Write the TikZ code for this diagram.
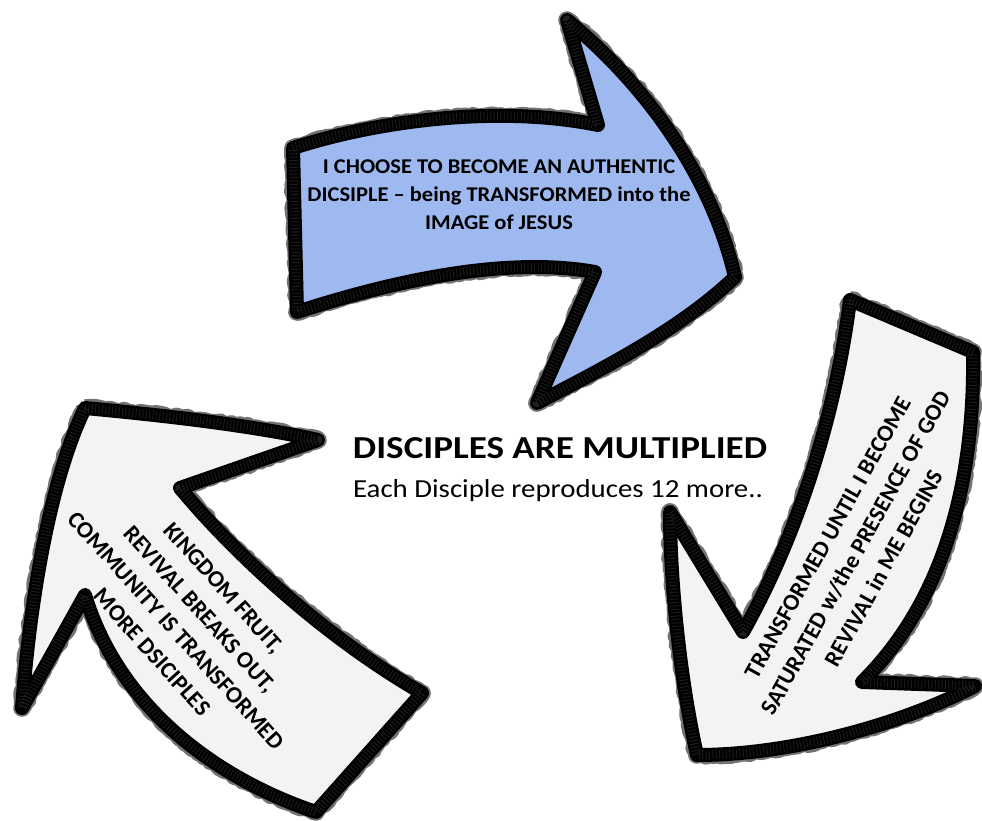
\documentclass[tikz,border=0pt]{standalone}
\usepackage{fontspec}
\setmainfont{Carlito}
\usetikzlibrary{decorations.pathmorphing}
\definecolor{arrowblue}{RGB}{157,185,240}
\definecolor{arrowwhite}{RGB}{243,243,243}
\begin{document}
\begin{tikzpicture}[x=1pt,y=-1pt,
  chalkarrow/.style={line width=14pt, draw=black, line join=round,
    preaction={draw=black!55, line width=17.5pt, line join=round,
      decorate, decoration={random steps, segment length=4pt, amplitude=1.4pt}},
    postaction={draw=white, opacity=0.12, line width=9pt, line join=round,
      dash pattern=on 0.8pt off 2.6pt}},
  lbl/.style={font=\bfseries\fontsize{21}{28}\selectfont, text=black},
  lblr/.style={font=\bfseries\fontsize{23.5}{32}\selectfont, align=center, text=black}]
\useasboundingbox (0,0) rectangle (982,821);
% top (blue) arrow
\path[chalkarrow, fill=arrowblue]
  (293,148) .. controls (380,120) and (500,105) .. (598,125)
  -- (567,20) .. controls (640,80) and (710,170) .. (735,277)
  .. controls (680,330) and (600,370) .. (537,403)
  -- (595,272) .. controls (500,255) and (380,285) .. (297,312) -- cycle;
% right (white) arrow
\path[chalkarrow, fill=arrowwhite]
  (850,300) -- (973,352) .. controls (975,480) and (945,600) .. (862,682)
  -- (975,686) .. controls (900,725) and (790,755) .. (697,755)
  .. controls (680,680) and (670,580) .. (670,512)
  -- (743,632) .. controls (795,540) and (835,420) .. (850,300) -- cycle;
% left (white) arrow
\path[chalkarrow, fill=arrowwhite]
  (85,408) .. controls (160,415) and (250,425) .. (318,440)
  -- (180,488) .. controls (240,560) and (330,640) .. (422,693)
  -- (316,812) .. controls (220,780) and (120,710) .. (85,595)
  -- (22,708) .. controls (30,600) and (50,480) .. (85,408) -- cycle;
% texts
\node[lbl] (ttop) at (499,196) {\scalebox{1.07}[1]{\begin{tabular}{@{}c@{}}I CHOOSE TO BECOME AN AUTHENTIC\\DICSIPLE – being TRANSFORMED into the\\IMAGE of JESUS\end{tabular}}};
\node[lblr, rotate=61] (tright) at (856,553) {TRANSFORMED UNTIL I BECOME\\SATURATED w/the PRESENCE OF GOD\\REVIVAL in ME BEGINS};
\node[lblr, rotate=-48] (tleft) at (188,620) {KINGDOM FRUIT,\\REVIVAL BREAKS OUT,\\COMMUNITY IS TRANSFORMED\\MORE DSICIPLES};
\node[font=\bfseries\fontsize{32}{38}\selectfont, anchor=base] (ctitle) at (560,458) {\scalebox{1.16}[1]{DISCIPLES ARE MULTIPLIED}};
\node[font=\fontsize{26}{30}\selectfont, anchor=base] (csub) at (558,497) {\scalebox{1.11}[1]{Each Disciple reproduces 12 more..}};
\end{tikzpicture}
\end{document}
